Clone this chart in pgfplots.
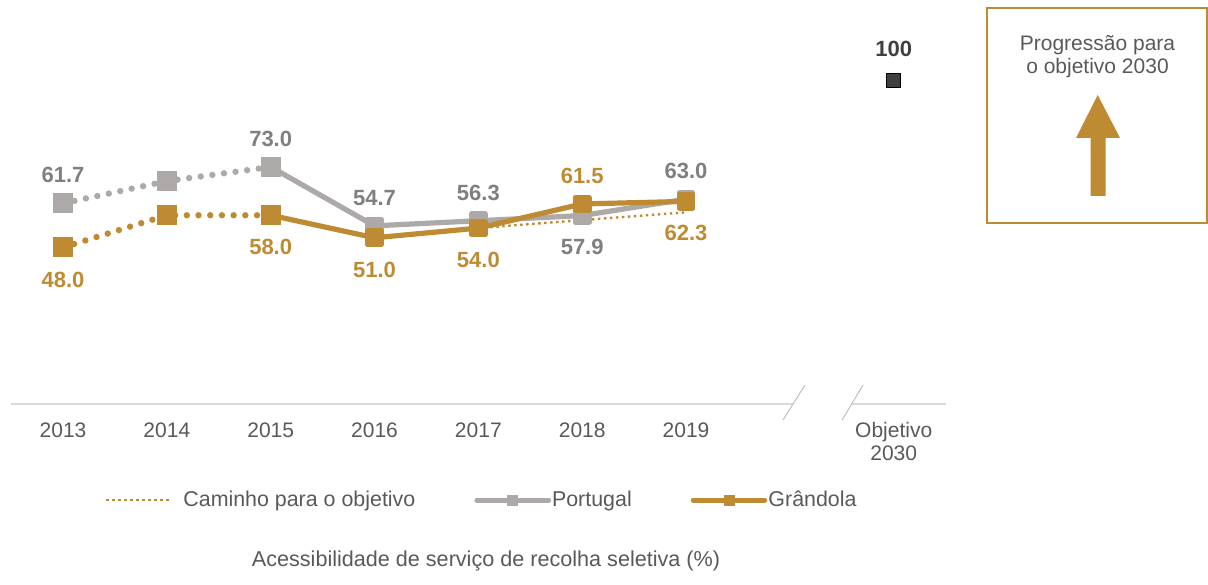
\documentclass[border=0pt]{standalone}
\usepackage{fontspec}
\setmainfont{Liberation Sans}
\usepackage{pgfplots}
\pgfplotsset{compat=1.18}
\definecolor{gold}{RGB}{191,139,50}
\definecolor{ptgray}{RGB}{173,169,169}
\definecolor{lblgray}{RGB}{127,127,127}
\definecolor{txtgray}{RGB}{89,89,89}
\definecolor{axgray}{RGB}{217,217,217}
\definecolor{brkgray}{RGB}{191,191,191}
\definecolor{objgray}{RGB}{64,64,64}

\begin{document}
\begin{tikzpicture}
\useasboundingbox (0,0) rectangle (604pt,292pt);
\begin{axis}[
  at={(5.55pt,90.2pt)}, anchor=south west,
  scale only axis, width=467.25pt, height=185.95pt,
  xmin=-0.5, xmax=8.5, ymin=-0.5, ymax=115,
  clip=false,
  hide y axis,
  x axis line style={draw=none},
  xtick={0,1,2,3,4,5,6,8},
  xticklabels={2013,2014,2015,2016,2017,2018,2019,{Objetivo\\2030}},
  xtick style={draw=none},
  major tick length=0pt,
  xticklabel style={anchor=north, align=center, inner sep=0pt, yshift=-9.2pt,
    font=\fontsize{10.5}{11.65}\selectfont, text=txtgray},
  /pgf/number format/fixed, /pgf/number format/fixed zerofill,
  /pgf/number format/precision=1, /pgf/number format/assume math mode=true,
  legend columns=3,
  legend cell align=left,
  legend style={at={(axis description cs:0,0)}, anchor=west, xshift=46.95pt, yshift=-48.2pt,
    draw=none, fill=none, inner sep=0pt, outer sep=0pt,
    font=\fontsize{10.7}{12}\selectfont, text=txtgray,
    nodes={inner sep=0pt},
    /tikz/every odd column/.append style={column sep=0pt},
    /tikz/every even column/.append style={column sep=29.5pt}},
]
\addlegendimage{legend image code/.code={
  \draw[gold, line width=1.2pt, line cap=butt, dash pattern=on 1.2pt off 1.8pt] (0pt,0pt) -- (32.8pt,0pt);
  \path (38.4pt,0pt);}}
\addlegendentry{Caminho para o objetivo}
\addlegendimage{legend image code/.code={
  \draw[ptgray, line width=2.5pt, line cap=round] (0pt,0pt) -- (35.9pt,0pt);
  \fill[ptgray] (15.45pt,-2.5pt) rectangle (20.45pt,2.5pt);
  \path (37.4pt,0pt);}}
\addlegendentry{Portugal}
\addlegendimage{legend image code/.code={
  \draw[gold, line width=2.5pt, line cap=round] (0pt,0pt) -- (35.7pt,0pt);
  \fill[gold] (15.35pt,-2.5pt) rectangle (20.35pt,2.5pt);
  \path (37.4pt,0pt);}}
\addlegendentry{Grândola}

% axis line with break
\draw[axgray, line width=1pt] (axis cs:-0.5,-0.5) -- (axis cs:7.03,-0.5);
\draw[axgray, line width=1pt] (axis cs:7.6,-0.5) -- (axis cs:8.5,-0.5);
\draw[brkgray, line width=0.5pt] (axis cs:6.934,-5.6) -- (axis cs:7.146,5.28);
\draw[brkgray, line width=0.5pt] (axis cs:7.503,-5.6) -- (axis cs:7.705,5.28);

% Caminho para o objetivo
\addplot[forget plot, gold, line width=1.2pt, dash pattern=on 1.2pt off 1.8pt, mark=none]
  coordinates {(4,54.0)(5,56.5)(6,58.9)};

% Portugal
\addplot[forget plot, ptgray, line width=3.2pt, line cap=round, dash pattern=on 0pt off 5.85pt,
  mark=square*, mark size=3.375pt, mark options={solid, fill=ptgray, draw=none}]
  coordinates {(0,61.7)(1,68.6)(2,73.0)};
\addplot[forget plot, ptgray, line width=2.6pt, line join=round,
  mark=square*, mark size=3.375pt, mark options={solid, fill=ptgray, draw=none}]
  coordinates {(2,73.0)(3,54.7)(4,56.3)(5,57.9)(6,63.0)};

% Grandola
\addplot[forget plot, gold, line width=3.2pt, line cap=round, dash pattern=on 0pt off 5.85pt,
  mark=square*, mark size=3.375pt, mark options={solid, fill=gold, draw=none}]
  coordinates {(0,48.0)(1,58.0)(2,58.0)};
\addplot[forget plot, gold, line width=2.6pt, line join=round,
  mark=square*, mark size=3.375pt, mark options={solid, fill=gold, draw=none}]
  coordinates {(2,58.0)(3,51.0)(4,54.0)(5,61.5)(6,62.3)};

% Objetivo 2030
\addplot[forget plot, only marks, mark=square*, mark size=3.5pt,
  mark options={fill=objgray, draw=none}]
  coordinates {(8,100)};

% data labels
\addplot[forget plot, draw=none, mark=none, nodes near coords, point meta=y,
  every node near coord/.append style={anchor=center, yshift=14pt, inner sep=0pt,
    font=\bfseries\fontsize{11}{13}\selectfont, text=lblgray}]
  coordinates {(0,61.7)(2,73.0)(3,54.7)(4,56.3)(6,63.0)};
\addplot[forget plot, draw=none, mark=none, nodes near coords, point meta=y,
  every node near coord/.append style={anchor=center, yshift=-15.5pt, inner sep=0pt,
    font=\bfseries\fontsize{11}{13}\selectfont, text=lblgray}]
  coordinates {(5,57.9)};
\addplot[forget plot, draw=none, mark=none, nodes near coords, point meta=y,
  every node near coord/.append style={anchor=center, yshift=-16pt, inner sep=0pt,
    font=\bfseries\fontsize{11}{13}\selectfont, text=gold}]
  coordinates {(0,48.0)(2,58.0)(3,51.0)(4,54.0)(6,62.3)};
\addplot[forget plot, draw=none, mark=none, nodes near coords, point meta=y,
  every node near coord/.append style={anchor=center, yshift=14pt, inner sep=0pt,
    font=\bfseries\fontsize{11}{13}\selectfont, text=gold}]
  coordinates {(5,61.5)};
\addplot[forget plot, draw=none, mark=none, nodes near coords, point meta=y,
  /pgf/number format/precision=0, /pgf/number format/fixed zerofill=false,
  every node near coord/.append style={anchor=center, yshift=15.5pt, inner sep=0pt,
    font=\bfseries\fontsize{11}{13}\selectfont, text=objgray}]
  coordinates {(8,100)};
\end{axis}

% caption
\node[anchor=base, text=txtgray, font=\fontsize{10.8}{12}\selectfont] at (243pt,8.65pt)
  {Acessibilidade de serviço de recolha seletiva (\%)};

% progress box
\draw[gold, line width=1pt] (493.5pt,180.5pt) rectangle (603.4pt,288pt);
\node[anchor=base, text=txtgray, font=\fontsize{10.5}{12}\selectfont] at (548.75pt,266.65pt) {Progressão para};
\node[anchor=base, text=txtgray, font=\fontsize{10.5}{12}\selectfont] at (548.75pt,255.35pt) {o objetivo 2030};
\fill[gold] (548.85pt,244.5pt) -- (560pt,223pt) -- (552.85pt,223pt) -- (552.85pt,194pt)
  -- (545.35pt,194pt) -- (545.35pt,223pt) -- (538pt,223pt) -- cycle;
\end{tikzpicture}
\end{document}
